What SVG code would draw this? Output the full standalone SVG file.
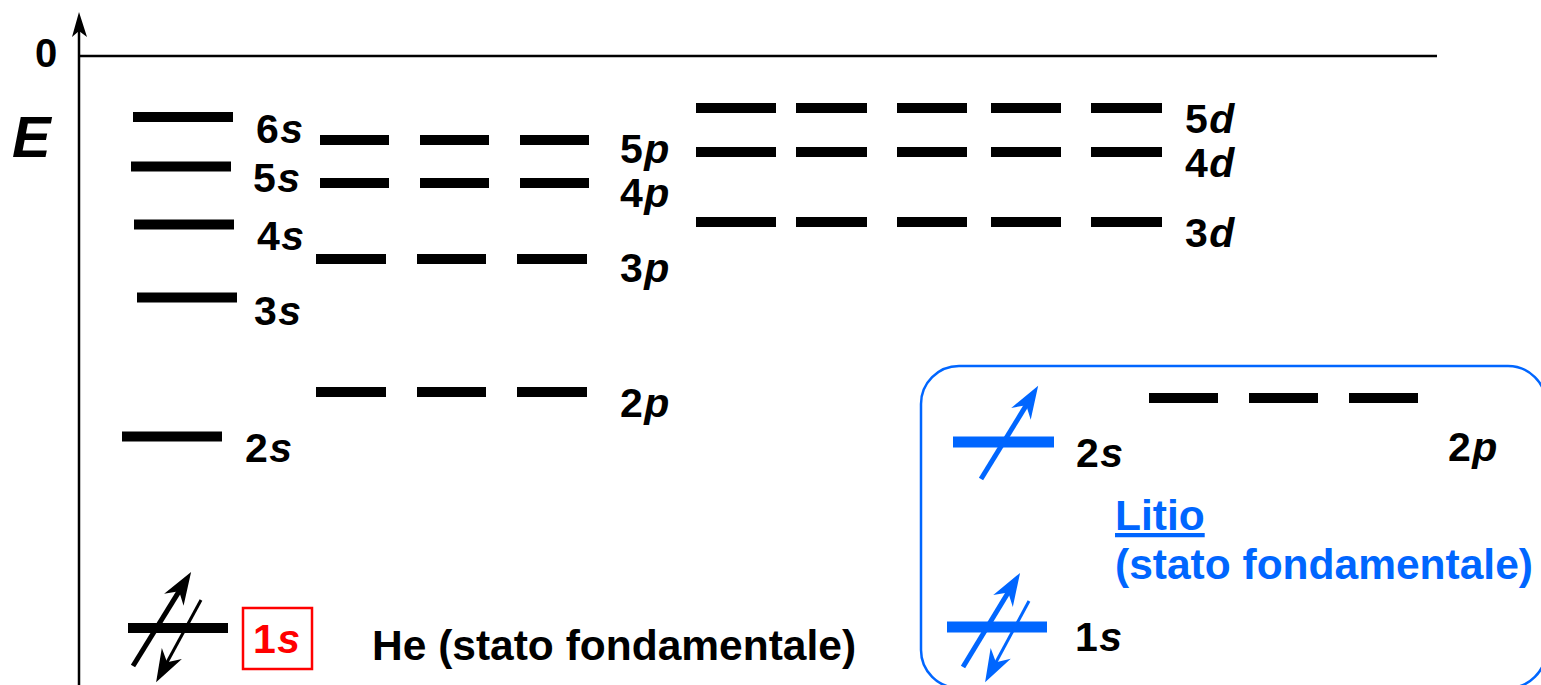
<svg xmlns="http://www.w3.org/2000/svg" width="1541" height="685" viewBox="0 0 1541 685">
<style>
.lv{stroke:#000;stroke-width:10;fill:none}
.lvb{stroke:#0066ff;stroke-width:11;fill:none}
.lbl{font-family:"Liberation Sans",Arial,sans-serif;font-weight:bold;font-size:41px;letter-spacing:1.5px;fill:#000}
.it{font-style:italic}
.big{font-family:"Liberation Sans",Arial,sans-serif;font-weight:bold;font-size:42.5px}
.ax{stroke:#000;stroke-width:2.5;fill:none}
.spin{fill:none;stroke-linecap:butt}
.zero{font-family:"Liberation Sans",Arial,sans-serif;font-weight:bold;font-size:40px;fill:#000}
</style>
<defs>
<marker id="hk" markerUnits="userSpaceOnUse" markerWidth="40" markerHeight="40" viewBox="-12 -10 28 20" refX="0" refY="0" orient="auto">
<path d="M14,0 L-9,-8 L-2,0 L-9,8 Z" fill="#000"/>
</marker>
<marker id="hb" markerUnits="userSpaceOnUse" markerWidth="40" markerHeight="40" viewBox="-12 -10 28 20" refX="0" refY="0" orient="auto">
<path d="M14,0 L-9,-8 L-2,0 L-9,8 Z" fill="#0066ff"/>
</marker>
</defs>
<rect width="1541" height="685" fill="#fff"/>

<g id="axes">
<line class="ax" x1="79" y1="685" x2="79" y2="28"/>
<path d="M79,12 L87,37 L79,31 L72,37 Z" fill="#000"/>
<line class="ax" x1="79" y1="56" x2="1437" y2="56" stroke-width="2"/>
<text x="35" y="67" class="zero">0</text>
<text x="12" y="157" font-family="Liberation Sans,Arial,sans-serif" font-weight="bold" font-style="italic" font-size="58">E</text>
</g>

<g id="level-6s"><line class="lv" x1="133" y1="117" x2="233" y2="117"/><text x="256" y="143" class="lbl">6<tspan class="it">s</tspan></text></g>
<g id="level-5s"><line class="lv" x1="131" y1="166.5" x2="231" y2="166.5"/><text x="253" y="192" class="lbl">5<tspan class="it">s</tspan></text></g>
<g id="level-4s"><line class="lv" x1="134" y1="224.5" x2="234" y2="224.5"/><text x="257" y="250" class="lbl">4<tspan class="it">s</tspan></text></g>
<g id="level-3s"><line class="lv" x1="137" y1="297.5" x2="237" y2="297.5"/><text x="254" y="325" class="lbl">3<tspan class="it">s</tspan></text></g>
<g id="level-2s"><line class="lv" x1="122" y1="436.5" x2="222" y2="436.5"/><text x="245" y="462" class="lbl">2<tspan class="it">s</tspan></text></g>

<g id="level-5p"><path class="lv" d="M320,140H389M420,140H489M520,140H589"/><text x="620" y="163" class="lbl">5<tspan class="it">p</tspan></text></g>
<g id="level-4p"><path class="lv" d="M320,183H389M420,183H489M520,183H589"/><text x="620" y="207" class="lbl">4<tspan class="it">p</tspan></text></g>
<g id="level-3p"><path class="lv" d="M316,259H386M417,259H486M517,259H587"/><text x="620" y="282" class="lbl">3<tspan class="it">p</tspan></text></g>
<g id="level-2p"><path class="lv" d="M316,392H386M417,392H486M517,392H587"/><text x="620" y="417" class="lbl">2<tspan class="it">p</tspan></text></g>

<g id="level-5d"><path class="lv" d="M696,108H776M796,108H867M897,108H967M991,108H1061M1091,108H1162"/><text x="1185" y="133" class="lbl">5<tspan class="it">d</tspan></text></g>
<g id="level-4d"><path class="lv" d="M696,152H776M796,152H867M897,152H967M991,152H1061M1091,152H1162"/><text x="1185" y="177" class="lbl">4<tspan class="it">d</tspan></text></g>
<g id="level-3d"><path class="lv" d="M696,222H776M796,222H867M897,222H967M991,222H1061M1091,222H1162"/><text x="1185" y="247" class="lbl">3<tspan class="it">d</tspan></text></g>

<g id="he-1s">
<line class="lv" x1="128" y1="628" x2="228" y2="628"/>
<rect x="243" y="608" width="69" height="61" fill="none" stroke="#ff0000" stroke-width="2.5"/>
<text x="253" y="653" class="lbl" style="fill:#ff0000">1<tspan class="it">s</tspan></text>
<text x="372" y="660" class="big" fill="#000">He (stato fondamentale)</text>
</g>

<g id="litio">
<rect x="921" y="366" width="625" height="322" rx="38" fill="none" stroke="#0066ff" stroke-width="2.5"/>
<g id="li-2s"><line class="lvb" x1="953" y1="442" x2="1054" y2="442"/><text x="1076" y="467" class="lbl">2<tspan class="it">s</tspan></text></g>
<g id="li-2p"><path class="lv" d="M1149,398H1218M1249,398H1318M1349,398H1418"/><text x="1448" y="461" class="lbl">2<tspan class="it">p</tspan></text></g>
<g id="li-1s"><line class="lvb" x1="947" y1="627" x2="1047" y2="627"/><text x="1075" y="651" class="lbl">1<tspan class="it">s</tspan></text></g>
<text x="1115" y="530" class="big" fill="#0066ff" text-decoration="underline">Litio </text>
<text x="1115" y="579" class="big" fill="#0066ff">(stato fondamentale)</text>
</g>

<g id="connectors">
<line class="spin" stroke="#000" stroke-width="5" x1="133" y1="666" x2="180.6" y2="588.9" marker-end="url(#hk)"/>
<line class="spin" stroke="#000" stroke-width="3" x1="201" y1="600" x2="165.7" y2="664.7" marker-end="url(#hk)"/>
<line class="spin" stroke="#0066ff" stroke-width="5" x1="981" y1="479" x2="1027.7" y2="402.9" marker-end="url(#hb)"/>
<line class="spin" stroke="#0066ff" stroke-width="5" x1="963" y1="667" x2="1009.7" y2="590" marker-end="url(#hb)"/>
<line class="spin" stroke="#0066ff" stroke-width="3" x1="1029" y1="601" x2="994.6" y2="664.7" marker-end="url(#hb)"/>
</g>
</svg>
